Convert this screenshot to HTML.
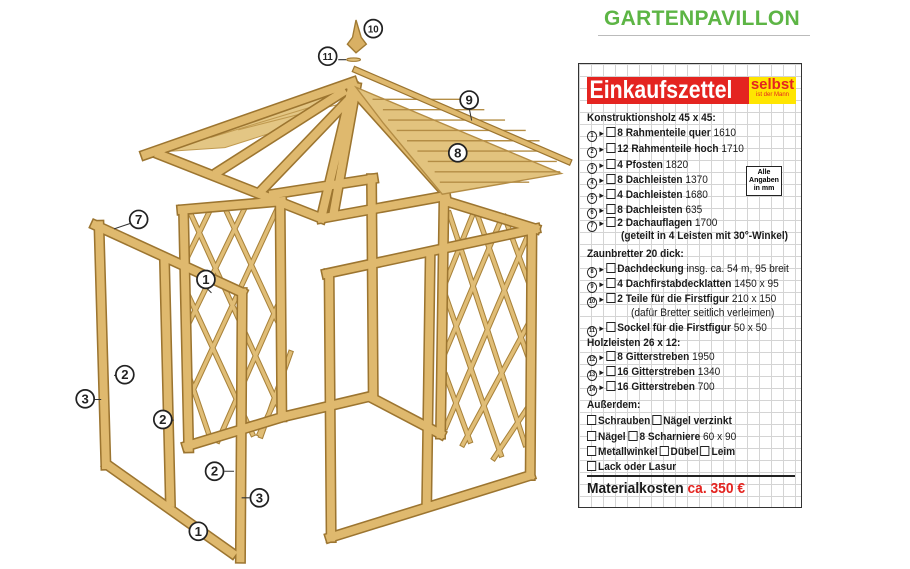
<!DOCTYPE html>
<html><head><meta charset="utf-8"><style>
body{margin:0;width:910px;height:569px;background:#fff;position:relative;overflow:hidden;font-family:"Liberation Sans Narrow","Liberation Sans",sans-serif}
svg{position:absolute;left:0;top:0}
.t{position:absolute;left:8px;font-weight:bold;font-size:11px;color:#1a1a1a;white-space:nowrap;line-height:13px;transform:scaleX(0.92);transform-origin:0 0}
.n{font-weight:normal}
.c{display:inline-block;width:9px;height:9px;border:1.2px solid #222;border-radius:50%;font-size:6px;line-height:9px;text-align:center;vertical-align:-1px}
.b{display:inline-block;width:8px;height:8px;border:1.2px solid #222;vertical-align:-1px;margin-right:2px;background:#fff}
.a{font-size:8px;margin:0 1px}
</style></head><body>
<div style="position:absolute;left:604px;top:7px;font:bold 21px 'Liberation Sans Narrow','Liberation Sans',sans-serif;color:#5db545;letter-spacing:0.3px">GARTENPAVILLON</div>
<div style="position:absolute;left:598px;top:35px;width:212px;height:1px;background:#bbb"></div>

<div style="position:absolute;left:578px;top:63px;width:222px;height:443px;border:1.5px solid #333;background-color:#fff;background-image:linear-gradient(#d4d4d4 1px,transparent 1px),linear-gradient(90deg,#d4d4d4 1px,transparent 1px);background-size:12px 12px">
 <div style="position:absolute;left:8px;top:13px;width:162px;height:27px;background:#e42420;overflow:hidden"><div style="color:#fff;font:bold 25px 'Liberation Sans Narrow','Liberation Sans',sans-serif;line-height:27px;padding-left:3px;transform:scaleX(0.85);transform-origin:0 0;white-space:nowrap">Einkaufszettel</div></div>
 <div style="position:absolute;left:170px;top:13px;width:47px;height:27px;background:#ffe500;color:#e42420;text-align:center;font:bold 15px 'Liberation Sans Narrow',sans-serif;line-height:15px">selbst<div style="font-size:6px;line-height:7px;font-weight:normal">ist der Mann</div></div>
 <div style="position:absolute;left:167px;top:102px;width:36px;height:30px;border:1.2px solid #222;background:#fff;font:bold 7px 'Liberation Sans Narrow',sans-serif;text-align:center;line-height:8px;padding-top:2px;box-sizing:border-box">Alle<br>Angaben<br>in mm</div>
 <div class="t" style="top:48px">Konstruktionsholz 45 x 45:</div>
 <div class="t" style="top:63px"><span class="c">1</span><span class="a">►</span><span class="b"></span>8 Rahmenteile quer <span class="n">1610</span></div>
 <div class="t" style="top:79px"><span class="c">2</span><span class="a">►</span><span class="b"></span>12 Rahmenteile hoch <span class="n">1710</span></div>
 <div class="t" style="top:95px"><span class="c">3</span><span class="a">►</span><span class="b"></span>4 Pfosten <span class="n">1820</span></div>
 <div class="t" style="top:110px"><span class="c">4</span><span class="a">►</span><span class="b"></span>8 Dachleisten <span class="n">1370</span></div>
 <div class="t" style="top:125px"><span class="c">5</span><span class="a">►</span><span class="b"></span>4 Dachleisten <span class="n">1680</span></div>
 <div class="t" style="top:140px"><span class="c">6</span><span class="a">►</span><span class="b"></span>8 Dachleisten <span class="n">635</span></div>
 <div class="t" style="top:153px"><span class="c">7</span><span class="a">►</span><span class="b"></span>2 Dachauflagen <span class="n">1700</span></div>
 <div class="t" style="top:166px;left:42px">(geteilt in 4 Leisten mit 30°-Winkel)</div>
 <div class="t" style="top:184px">Zaunbretter 20 dick:</div>
 <div class="t" style="top:199px"><span class="c">8</span><span class="a">►</span><span class="b"></span>Dachdeckung <span class="n">insg. ca. 54 m, 95 breit</span></div>
 <div class="t" style="top:214px"><span class="c">9</span><span class="a">►</span><span class="b"></span>4 Dachfirstabdecklatten <span class="n">1450 x 95</span></div>
 <div class="t" style="top:229px"><span class="c">10</span><span class="a">►</span><span class="b"></span>2 Teile für die Firstfigur <span class="n">210 x 150</span></div>
 <div class="t n" style="top:243px;left:52px">(dafür Bretter seitlich verleimen)</div>
 <div class="t" style="top:258px"><span class="c">11</span><span class="a">►</span><span class="b"></span>Sockel für die Firstfigur <span class="n">50 x 50</span></div>
 <div class="t" style="top:273px">Holzleisten 26 x 12:</div>
 <div class="t" style="top:287px"><span class="c">12</span><span class="a">►</span><span class="b"></span>8 Gitterstreben <span class="n">1950</span></div>
 <div class="t" style="top:302px"><span class="c">13</span><span class="a">►</span><span class="b"></span>16 Gitterstreben <span class="n">1340</span></div>
 <div class="t" style="top:317px"><span class="c">14</span><span class="a">►</span><span class="b"></span>16 Gitterstreben <span class="n">700</span></div>
 <div class="t" style="top:335px">Außerdem:</div>
 <div class="t" style="top:351px"><span class="b"></span>Schrauben<span class="b" style="margin-left:2px"></span>Nägel verzinkt</div>
 <div class="t" style="top:367px"><span class="b"></span>Nägel <span class="b"></span>8 Scharniere <span class="n">60 x 90</span></div>
 <div class="t" style="top:382px"><span class="b"></span>Metallwinkel<span class="b" style="margin-left:2px"></span>Dübel<span class="b" style="margin-left:2px"></span>Leim</div>
 <div class="t" style="top:397px"><span class="b"></span>Lack oder Lasur</div>
 <div style="position:absolute;left:8px;top:411px;width:208px;height:1.5px;background:#222"></div>
 <div class="t" style="top:416px;font-size:15px;line-height:18px">Materialkosten <span style="color:#e42420">ca. 350 €</span></div>
</div>

<svg width="600" height="569" viewBox="0 0 600 569">
<defs>
<g id="bm">
<path d="M55 595L75 1290M45 595L470 790M470 790L465 1560M80 1290L440 1545M245 700L262 1400"/>
<path d="M295 550L585 525M300 550L315 1240M580 525L585 1150M310 1235L590 1150"/>
<path d="M845 460L850 1090M590 1150L845 1090M845 1095L1045 1200"/>
<path d="M1055 520L1045 1200M1060 525L1320 605"/>
<path d="M715 735L1320 605M722 735L728 1500M1310 605L1305 1320M725 1500L1305 1320M1015 690L1005 1395"/>
<path d="M230 390L700 575M700 575L1060 510M560 505L850 460M190 390L790 180M790 190L700 570M800 195L735 560M790 200L1050 490M400 440L760 210M530 490L770 240"/>
</g>
<g id="lt">
<path d="M320 560L580 1130M420 545L585 900M315 800L500 1200M315 1030L380 1220M575 540L315 1100M480 540L315 880M380 545L315 680M585 800L400 1220M590 1050L520 1200M610 965L525 1205"/>
<path d="M1070 560L1290 1230M1150 560L1300 980M1230 570L1300 760M1060 800L1220 1260M1060 1030L1130 1220M1300 620L1060 1180M1220 580L1060 960M1140 560L1060 760M1300 880L1110 1230M1300 1120L1200 1270"/>
</g>
</defs>
<g transform="translate(80,20) scale(0.345)" fill="none" stroke-linecap="square">
<polygon points="240,382 785,192 640,300 420,370" fill="#e3c684" stroke="#c09a50" stroke-width="3"/>
<g stroke="#c09a50" stroke-width="3"><path d="M300 362L760 205M380 340L770 222M460 318L775 238"/></g>
<use href="#lt" stroke="#a8823a" stroke-width="16"/>
<use href="#lt" stroke="#e0bd76" stroke-width="10"/>
<use href="#bm" stroke="#9c7530" stroke-width="32"/>
<use href="#bm" stroke="#dfb96e" stroke-width="23"/>
<polygon points="800,195 1395,445 1050,505 880,300" fill="#e2c37e" stroke="#b48d45" stroke-width="4"/>
<g stroke="#b48d45" stroke-width="4"><path d="M850 230L1100 230M880 260L1170 260M895 290L1230 290M920 320L1290 320M950 350L1330 350M980 380L1360 380M1010 410L1380 410M1030 440L1390 440M1045 470L1300 470"/></g>
<path d="M800 145L1415 410" stroke="#9c7530" stroke-width="20"/>
<path d="M800 145L1415 410" stroke="#dfb96e" stroke-width="13"/>
<polygon points="800,0 815,50 830,70 800,95 775,70 790,50" fill="#d9b064" stroke="#a07a33" stroke-width="4"/>
<ellipse cx="793" cy="115" rx="20" ry="5" fill="#e2c07a" stroke="#a07a33" stroke-width="3"/>
<g stroke="#333" stroke-width="3"><path d="M1128 255L1135 290M100 605L145 590M365 775L380 790M100 1030L110 1030M40 1100L60 1100M270 1160L260 1160M420 1308L445 1308M490 1385L470 1385M750 115L770 115"/></g>
<g fill="#fff" stroke="#222" stroke-width="5">
<circle cx="850" cy="25" r="26"/><circle cx="718" cy="105" r="26"/><circle cx="1128" cy="232" r="26"/><circle cx="1095" cy="385" r="26"/><circle cx="170" cy="578" r="26"/><circle cx="365" cy="752" r="26"/><circle cx="130" cy="1028" r="26"/><circle cx="15" cy="1098" r="26"/><circle cx="240" cy="1158" r="26"/><circle cx="390" cy="1308" r="26"/><circle cx="520" cy="1385" r="26"/><circle cx="343" cy="1482" r="26"/>
</g>
<g fill="#222" font-family="Liberation Sans Narrow,Liberation Sans,sans-serif" font-weight="bold" font-size="38" text-anchor="middle">
<text x="850" y="36" font-size="28">10</text><text x="718" y="116" font-size="28">11</text><text x="1128" y="245">9</text><text x="1095" y="398">8</text><text x="170" y="591">7</text><text x="365" y="765">1</text><text x="130" y="1041">2</text><text x="15" y="1111">3</text><text x="240" y="1171">2</text><text x="390" y="1321">2</text><text x="520" y="1398">3</text><text x="343" y="1495">1</text>
</g>
</g>
</svg>
</body></html>
